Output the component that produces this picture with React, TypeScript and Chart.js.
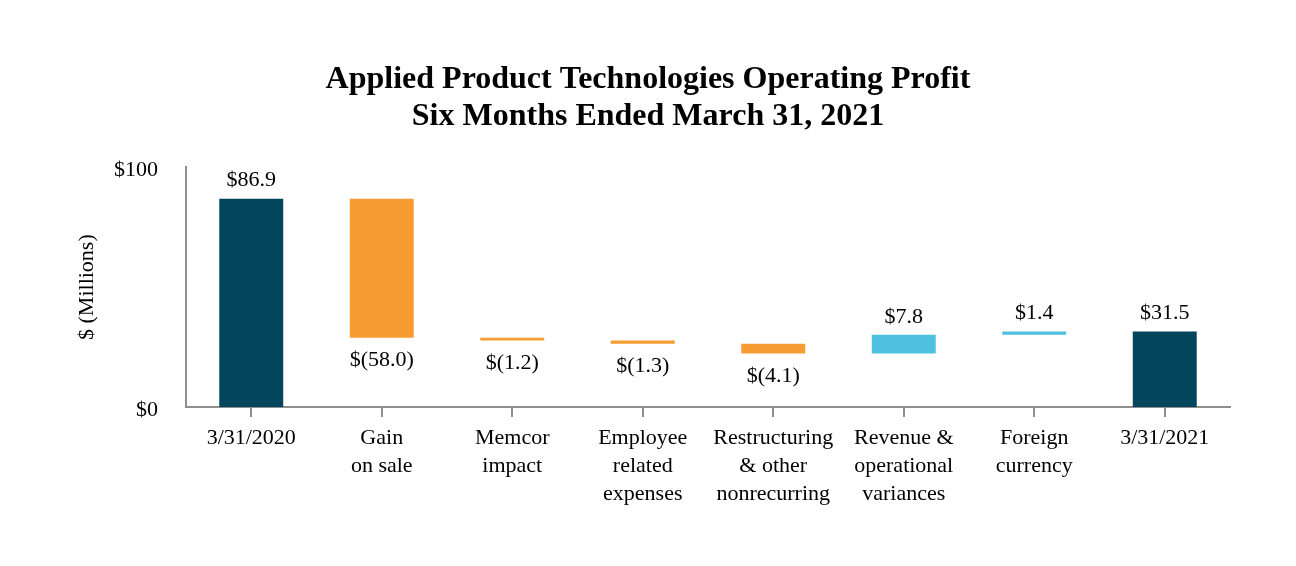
import React, { useEffect, useRef } from "react";
import { Chart, registerables } from "chart.js";

Chart.register(...registerables);

const categories: string[][] = [
  ["3/31/2020"],
  ["Gain", "on sale"],
  ["Memcor", "impact"],
  ["Employee", "related", "expenses"],
  ["Restructuring", "& other", "nonrecurring"],
  ["Revenue &", "operational", "variances"],
  ["Foreign", "currency"],
  ["3/31/2021"],
];
const changes: number[] = [86.9, -58.0, -1.2, -1.3, -4.1, 7.8, 1.4, 31.5];
const kinds: string[] = ["total", "dec", "dec", "dec", "dec", "inc", "inc", "total"];
const yTicks: number[] = [0, 100];

const COLORS: Record<string, string> = {
  total: "#03455B",
  dec: "#F79B33",
  inc: "#4FC1E0",
};

const FONT = "'Liberation Serif', 'Times New Roman', serif";

function buildBars(): [number, number][] {
  let run = 0;
  return changes.map((v, i) => {
    if (kinds[i] === "total") {
      run = v;
      return [0, v];
    }
    const start = run;
    run = run + v;
    return [start, run];
  });
}

function fmt(v: number): string {
  return v < 0 ? `$(${Math.abs(v).toFixed(1)})` : `$${v.toFixed(1)}`;
}

const labelPlugin = {
  id: "wfLabels",
  afterDatasetsDraw(chart: any) {
    const ctx = chart.ctx;
    const meta = chart.getDatasetMeta(0);
    ctx.save();
    ctx.font = `22px ${FONT}`;
    ctx.fillStyle = "#000";
    ctx.textAlign = "center";
    ctx.textBaseline = "middle";
    meta.data.forEach((el: any, i: number) => {
      const top = Math.min(el.y, el.base);
      const bottom = Math.max(el.y, el.base);
      const v = changes[i];
      if (v < 0) {
        ctx.fillText(fmt(v), el.x, bottom + 23);
      } else {
        ctx.fillText(fmt(v), el.x, top - 18);
      }
    });
    ctx.restore();
  },
};

export default function App() {
  const ref = useRef<HTMLCanvasElement | null>(null);
  useEffect(() => {
    if (!ref.current) return;
    const bars = buildBars();
    const chart = new Chart(ref.current, {
      type: "bar",
      data: {
        labels: categories,
        datasets: [
          {
            data: bars as any,
            backgroundColor: kinds.map((k) => COLORS[k]),
            borderWidth: 0,
            categoryPercentage: 1,
            barPercentage: 0.49,
          },
        ],
      },
      options: {
        animation: false,
        responsive: false,
        maintainAspectRatio: false,
        layout: { padding: { left: 58, right: 58, top: 0, bottom: 0 } },
        plugins: {
          legend: { display: false },
          tooltip: { enabled: false },
          title: {
            display: true,
            text: [
              "Applied Product Technologies Operating Profit",
              "Six Months Ended March 31, 2021",
            ],
            color: "#000",
            font: { family: FONT, size: 32, weight: "bold", lineHeight: 1.16 },
            padding: { top: 53, bottom: 32 },
          },
        },
        scales: {
          x: {
            grid: {
              display: true,
              drawOnChartArea: false,
              drawTicks: true,
              tickLength: 10,
              offset: false,
              color: "#8E8E8E",
              lineWidth: 2,
            },
            border: { display: true, color: "#8E8E8E", width: 2 },
            ticks: {
              color: "#000",
              font: { family: FONT, size: 22, lineHeight: 1.27 },
              padding: 7,
              maxRotation: 0,
              autoSkip: false,
            },
            afterFit(scale: any) {
              scale.height = 151;
            },
          },
          y: {
            min: 0,
            max: 100,
            afterBuildTicks(scale: any) {
              scale.ticks = yTicks.map((v) => ({ value: v }));
            },
            grid: { display: false, drawTicks: false },
            border: { display: true, color: "#8E8E8E", width: 2 },
            ticks: {
              color: "#000",
              font: { family: FONT, size: 22 },
              padding: 28,
              labelOffset: 3,
              callback: (v: any) => `$${v}`,
            },
            title: {
              display: true,
              text: "$ (Millions)",
              color: "#000",
              font: { family: FONT, size: 22 },
              padding: { top: 8, bottom: 0 },
            },
            afterFit(scale: any) {
              scale.width = 120;
            },
          },
        },
      },
      plugins: [labelPlugin],
    });
    return () => chart.destroy();
  }, []);
  return (
    <div style={{ width: 1280, height: 550, background: "#fff" }}>
      <canvas ref={ref} width={1280} height={550} style={{ width: 1280, height: 550 }} />
    </div>
  );
}
